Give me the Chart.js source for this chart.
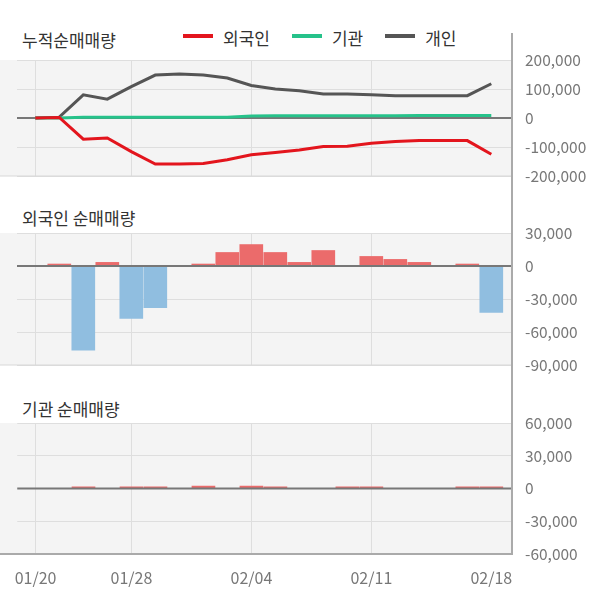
<!DOCTYPE html>
<html>
<head>
<meta charset="utf-8">
<script src="https://cdn.jsdelivr.net/npm/chart.js@4.4.1/dist/chart.umd.min.js"></script>
<style>
  body { margin: 0; width: 600px; height: 604px; background: #fff; position: relative; overflow: hidden;
         font-family: "Noto Sans CJK KR", "Noto Sans", sans-serif; }
  canvas { position: absolute; left: 0; }
  .ttl { position: absolute; left: 22px; font-size: 17px; line-height: 20px; color: #333; white-space: nowrap; }
  #legend { position: absolute; top: 28px; left: 183px; display: flex; align-items: center;
            font-size: 17px; line-height: 20px; color: #333; white-space: nowrap; }
  #legend .sw { width: 30px; height: 4px; margin-right: 10px; position: relative; top: -2px; }
  #legend .lb { margin-right: 22px; }
</style>
</head>
<body>
<div class="ttl" style="top:30px">누적순매매량</div>
<div id="legend">
  <span class="sw" style="background:#e3151d"></span><span class="lb">외국인</span>
  <span class="sw" style="background:#26c28a"></span><span class="lb">기관</span>
  <span class="sw" style="background:#555555"></span><span class="lb">개인</span>
</div>
<div class="ttl" style="top:208px">외국인 순매매량</div>
<div class="ttl" style="top:399px">기관 순매매량</div>

<canvas id="c1" width="600" height="200" style="top:0px"></canvas>
<canvas id="c2" width="600" height="190" style="top:200px"></canvas>
<canvas id="c3" width="600" height="224" style="top:380px"></canvas>

<script>
var dates = ["01/20","01/21","01/22","01/23","01/28","01/29","01/30","01/31","02/03","02/04",
             "02/05","02/06","02/07","02/10","02/11","02/12","02/13","02/14","02/17","02/18"];
var tickDates = ["01/20","01/28","02/04","02/11","02/18"];

// cumulative net buying (shares)
var foreignCum = [0, 2000, -73000, -69000, -116000, -159000, -159000, -157000, -144000, -127000,
                  -119000, -110000, -98000, -97000, -87000, -81000, -78000, -78000, -78000, -125000];
var instCum = [0, 0, 3000, 3000, 3000, 3000, 3000, 3000, 3000, 7000,
               8000, 8000, 8000, 8000, 8000, 8000, 9000, 9000, 9000, 9000];
var personCum = [0, 3000, 80000, 65000, 108000, 148000, 152000, 148000, 138000, 112000,
                 100000, 94000, 83000, 83000, 80000, 77000, 77000, 77000, 77000, 118000];

// daily net buying
var foreignNet = [0, 1800, -76500, 3300, -47700, -37800, 0, 1800, 12300, 19500,
                  12300, 3300, 14100, 0, 8700, 6000, 3300, 0, 1800, -42300];
var instNet = [0, 0, 1500, 0, 1500, 1500, 0, 2200, 0, 2200,
               1500, 0, 0, 1500, 1500, 0, 0, 0, 1500, 1500];

var cumTicks = [-200000, 200000, 100000];
var foreignTicks = [-90000, 30000, 30000];
var instTicks = [-60000, 60000, 30000];

Chart.defaults.font.family = '"Noto Sans CJK KR", "Noto Sans", sans-serif';
Chart.defaults.color = "#777";

var tickIdx = tickDates.map(function (d) { return dates.indexOf(d); });
var lastIdx = dates.length - 1;

function pts(arr) { return arr.map(function (v, i) { return { x: i, y: v }; }); }

function panel(opts) {
  function zero(chart) {
    var a = chart.chartArea, ctx = chart.ctx;
    var y = chart.scales.y.getPixelForValue(0);
    ctx.save();
    ctx.strokeStyle = "#777";
    ctx.lineWidth = 2;
    ctx.beginPath();
    ctx.moveTo(a.left, y);
    ctx.lineTo(a.right, y);
    ctx.stroke();
    ctx.restore();
  }
  return {
    id: "panel",
    beforeDraw: function (chart) {
      var a = chart.chartArea, ctx = chart.ctx;
      ctx.save();
      ctx.fillStyle = "#f4f4f4";
      ctx.fillRect(0, a.top, a.right, a.bottom - a.top);
      ctx.restore();
    },
    beforeDatasetsDraw: function (chart) { if (!opts.zeroOnTop) zero(chart); },
    afterDatasetsDraw: function (chart) { if (opts.zeroOnTop) zero(chart); },
    afterDraw: function (chart) {
      var a = chart.chartArea, ctx = chart.ctx;
      var ax = Math.round(a.right);
      ctx.save();
      ctx.strokeStyle = opts.bottomColor;
      ctx.lineWidth = opts.bottomWidth;
      ctx.beginPath();
      ctx.moveTo(0, a.bottom);
      ctx.lineTo(ax, a.bottom);
      ctx.stroke();
      ctx.fillStyle = "#aaa";
      var yEnd = opts.axisBottom === "area" ? a.bottom + 1 : chart.height;
      ctx.fillRect(ax - 1, opts.axisTop, 2, yEnd - opts.axisTop);
      ctx.restore();
    }
  };
}

function scales(yr, showX, xHeight) {
  return {
    x: {
      type: "linear",
      min: -0.7625,
      max: 19.8625,
      offset: false,
      afterBuildTicks: function (s) { s.ticks = tickIdx.map(function (v) { return { value: v }; }); },
      afterFit: function (s) { s.height = xHeight; },
      grid: {
        offset: false,
        drawTicks: false,
        color: function (c) { return c.tick && c.tick.value === lastIdx ? "rgba(0,0,0,0)" : "#dedede"; }
      },
      border: { display: false },
      ticks: {
        display: showX,
        autoSkip: false,
        maxRotation: 0,
        padding: 14,
        color: "#777",
        font: { size: 16 },
        callback: function (v) { return dates[v]; }
      }
    },
    y: {
      position: "right",
      min: yr[0],
      max: yr[1],
      afterFit: function (s) { s.width = 88; },
      grid: {
        drawTicks: false,
        color: function (c) { return c.tick && c.tick.value === 0 ? "rgba(0,0,0,0)" : "#dedede"; }
      },
      border: { display: false },
      ticks: {
        stepSize: yr[2],
        padding: 13,
        color: "#777",
        font: { size: 15.5 },
        callback: function (v) { return v.toLocaleString("en-US"); }
      }
    }
  };
}

function base(pad, yr, showX, xHeight) {
  return {
    responsive: false,
    animation: false,
    events: [],
    layout: { padding: { left: 17, right: 0, top: pad[0], bottom: pad[1] } },
    plugins: { legend: { display: false }, tooltip: { enabled: false } },
    scales: scales(yr, showX, xHeight)
  };
}

var lineStyle = { borderWidth: 3, pointRadius: 0, tension: 0, fill: false };

new Chart(document.getElementById("c1"), {
  type: "line",
  data: {
    datasets: [
      Object.assign({ label: "외국인", data: pts(foreignCum), borderColor: "#e3151d" }, lineStyle),
      Object.assign({ label: "기관", data: pts(instCum), borderColor: "#26c28a" }, lineStyle),
      Object.assign({ label: "개인", data: pts(personCum), borderColor: "#555555" }, lineStyle)
    ]
  },
  options: base([60, 24], cumTicks, false, 0),
  plugins: [panel({ zeroOnTop: false, bottomColor: "#d8d8d8", bottomWidth: 1, axisTop: 33, axisBottom: "canvas" })]
});

function barColor(c) { return c.raw && c.raw.y < 0 ? "#90bee0" : "#eb6b6b"; }

new Chart(document.getElementById("c2"), {
  type: "bar",
  data: {
    datasets: [{ label: "외국인", data: pts(foreignNet), backgroundColor: barColor, barThickness: 23 }]
  },
  options: base([33, 25], foreignTicks, false, 0),
  plugins: [panel({ zeroOnTop: true, bottomColor: "#d8d8d8", bottomWidth: 1, axisTop: 0, axisBottom: "canvas" })]
});

new Chart(document.getElementById("c3"), {
  type: "bar",
  data: {
    datasets: [{ label: "기관", data: pts(instNet), backgroundColor: barColor, barThickness: 23 }]
  },
  options: base([43, 0], instTicks, true, 50),
  plugins: [panel({ zeroOnTop: true, bottomColor: "#aaa", bottomWidth: 2, axisTop: 0, axisBottom: "area" })]
});
</script>
</body>
</html>
